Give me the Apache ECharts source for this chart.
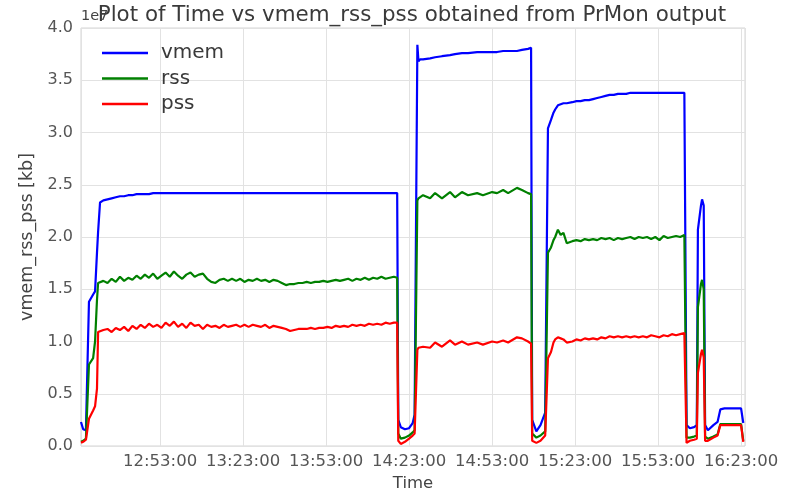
<!DOCTYPE html>
<html>
<head>
<meta charset="utf-8">
<script src="https://cdn.jsdelivr.net/npm/echarts@6/dist/echarts.min.js"></script>
<style>html,body{margin:0;padding:0;background:#fff}#c{width:792px;height:491px}</style>
</head>
<body>
<div id="c"></div>
<script>
// Time of each sample, in minutes after 12:00:00
const timeMin = [
  24.42, 25.2, 26.2, 26.6, 27.3, 28.8, 29.5, 30.2, 30.6,
  31.3, 32.5, 34, 35.5, 37, 38.5, 40, 41.5, 43, 44.5, 46,
  47.5, 49, 50.5, 52, 53.5, 55, 56.5, 58, 59.5, 61,
  62.5, 64, 65.5, 67, 68.5, 70, 71.5, 73, 74.5, 76,
  77.5, 79, 80.5, 82, 83.5, 85, 86.5, 88, 89.5, 91,
  92.5, 94, 95.5, 97, 98.5, 100, 101.5, 103, 104.5, 106,
  107.5, 109, 110.5, 112, 113.5, 115, 116.5, 118, 119.5, 121,
  122.5, 124, 125.5, 127, 128.5, 130, 131.5, 133, 134.5, 136,
  137.5, 138.7,
  139.1, 140, 141.5, 143, 144.3, 145, 146, 146.4, 147,
  148.05, 150.6, 152.4, 154.9, 157.8, 159.6, 162.1, 164.3, 167.6, 169.7,
  173.0, 174.8, 177.0, 178.8, 182.0, 183.8, 186.0, 187.1,
  187.5, 189, 190.5, 192.2, 193.2, 194.3, 195.2, 195.8, 196.8, 197.8, 198.8, 200,
  202, 203.5, 205, 206.5, 208, 209.5, 211, 212.5, 214, 215.5,
  217, 218.5, 220, 221.5, 223, 224.5, 226, 227.5, 229, 230.5,
  232, 233.5, 235, 236.5, 238, 239.5, 241, 242.5,
  243.3, 244.5, 246, 247, 247.4, 248.5, 248.9, 249.5, 250, 251,
  253, 254.5, 255.5, 257, 259, 261, 263, 263.8
];
// values in units of 1e7 kb
const vmem = [
  0.23, 0.16, 0.15, 0.16, 1.38, 1.45, 1.48, 1.85, 2.05,
  2.33, 2.35, 2.36, 2.37, 2.38, 2.39, 2.39, 2.40, 2.40, 2.41, 2.41,
  2.41, 2.41, 2.42, 2.42, 2.42, 2.42, 2.42, 2.42, 2.42, 2.42,
  2.42, 2.42, 2.42, 2.42, 2.42, 2.42, 2.42, 2.42, 2.42, 2.42,
  2.42, 2.42, 2.42, 2.42, 2.42, 2.42, 2.42, 2.42, 2.42, 2.42,
  2.42, 2.42, 2.42, 2.42, 2.42, 2.42, 2.42, 2.42, 2.42, 2.42,
  2.42, 2.42, 2.42, 2.42, 2.42, 2.42, 2.42, 2.42, 2.42, 2.42,
  2.42, 2.42, 2.42, 2.42, 2.42, 2.42, 2.42, 2.42, 2.42, 2.42,
  2.42, 2.42,
  0.25, 0.18, 0.16, 0.17, 0.22, 0.30, 3.84, 3.68, 3.70,
  3.70, 3.71, 3.72, 3.73, 3.74, 3.75, 3.76, 3.76, 3.77, 3.77,
  3.77, 3.77, 3.78, 3.78, 3.78, 3.79, 3.80, 3.81,
  0.25, 0.14, 0.20, 0.32, 3.04, 3.12, 3.19, 3.22, 3.26, 3.27, 3.28, 3.28,
  3.29, 3.30, 3.30, 3.31, 3.31, 3.32, 3.33, 3.34, 3.35, 3.36,
  3.36, 3.37, 3.37, 3.37, 3.38, 3.38, 3.38, 3.38, 3.38, 3.38,
  3.38, 3.38, 3.38, 3.38, 3.38, 3.38, 3.38, 3.38,
  0.20, 0.17, 0.18, 0.20, 2.07, 2.30, 2.36, 2.30, 0.20, 0.15,
  0.20, 0.23, 0.35, 0.36, 0.36, 0.36, 0.36, 0.22
];
const rss = [
  0.04, 0.05, 0.07, 0.08, 0.78, 0.84, 1.00, 1.40, 1.56,
  1.55, 1.58, 1.56, 1.60, 1.57, 1.62, 1.58, 1.61, 1.59, 1.63, 1.60,
  1.64, 1.61, 1.65, 1.60, 1.63, 1.66, 1.62, 1.67, 1.63, 1.60,
  1.64, 1.66, 1.62, 1.64, 1.65, 1.60, 1.57, 1.56, 1.59, 1.60,
  1.58, 1.60, 1.58, 1.60, 1.57, 1.59, 1.58, 1.60, 1.58, 1.59,
  1.57, 1.59, 1.58, 1.56, 1.54, 1.55, 1.55, 1.56, 1.56, 1.57,
  1.56, 1.57, 1.57, 1.58, 1.57, 1.58, 1.59, 1.58, 1.59, 1.60,
  1.58, 1.60, 1.59, 1.61, 1.59, 1.61, 1.60, 1.62, 1.60, 1.61,
  1.62, 1.61,
  0.12, 0.07, 0.08, 0.10, 0.13, 0.15, 2.35, 2.37, 2.38,
  2.40, 2.37, 2.42, 2.37, 2.43, 2.38, 2.43, 2.40, 2.42, 2.40,
  2.43, 2.42, 2.45, 2.42, 2.47, 2.45, 2.42, 2.41,
  0.12, 0.08, 0.10, 0.14, 1.85, 1.90, 1.97, 2.00, 2.07, 2.02, 2.04, 1.94,
  1.96, 1.97, 1.96, 1.98, 1.97, 1.98, 1.97, 1.99, 1.98, 1.99,
  1.97, 1.99, 1.98, 1.99, 2.00, 1.98, 2.00, 1.99, 2.00, 1.98,
  2.00, 1.97, 2.01, 1.99, 2.00, 2.01, 2.00, 2.02,
  0.08, 0.08, 0.09, 0.10, 1.33, 1.55, 1.59, 1.50, 0.09, 0.07,
  0.09, 0.11, 0.21, 0.21, 0.21, 0.21, 0.21, 0.05
];
const pss = [
  0.03, 0.04, 0.06, 0.07, 0.26, 0.34, 0.38, 0.55, 1.09,
  1.10, 1.11, 1.12, 1.09, 1.13, 1.11, 1.14, 1.10, 1.15, 1.12, 1.16,
  1.13, 1.17, 1.14, 1.16, 1.13, 1.18, 1.15, 1.19, 1.14, 1.17,
  1.13, 1.18, 1.15, 1.16, 1.12, 1.16, 1.14, 1.15, 1.13, 1.16,
  1.14, 1.15, 1.16, 1.14, 1.16, 1.14, 1.16, 1.15, 1.14, 1.16,
  1.13, 1.15, 1.14, 1.13, 1.12, 1.10, 1.11, 1.12, 1.12, 1.12,
  1.13, 1.12, 1.13, 1.13, 1.14, 1.13, 1.15, 1.14, 1.15, 1.14,
  1.16, 1.15, 1.16, 1.15, 1.17, 1.16, 1.17, 1.16, 1.18, 1.17,
  1.18, 1.18,
  0.05, 0.02, 0.04, 0.07, 0.10, 0.12, 0.92, 0.94, 0.94,
  0.95, 0.94, 0.99, 0.95, 1.01, 0.97, 1.00, 0.97, 0.99, 0.97,
  1.00, 0.99, 1.01, 0.99, 1.04, 1.03, 1.00, 0.98,
  0.05, 0.03, 0.05, 0.10, 0.84, 0.90, 0.99, 1.02, 1.04, 1.03, 1.02, 0.99,
  1.00, 1.02, 1.01, 1.03, 1.02, 1.03, 1.02, 1.04, 1.03, 1.05,
  1.04, 1.05, 1.04, 1.05, 1.04, 1.05, 1.04, 1.05, 1.04, 1.06,
  1.05, 1.04, 1.06, 1.05, 1.07, 1.06, 1.07, 1.08,
  0.03, 0.05, 0.06, 0.07, 0.70, 0.88, 0.92, 0.85, 0.05, 0.05,
  0.08, 0.10, 0.20, 0.20, 0.20, 0.20, 0.20, 0.04
];
const seriesNames = ['vmem', 'rss', 'pss'];
const yTicks = [0, 0.5, 1.0, 1.5, 2.0, 2.5, 3.0, 3.5, 4.0];
const xStartMin = 24.42;   // 12:24:25
const xEndMin = 264.42;    // 16:24:25
const tickOriginMin = 23;  // ticks fall every 30 min from 12:23

[vmem, rss, pss].forEach(function (a, i) {
  if (a.length !== timeMin.length) throw new Error(seriesNames[i] + ' length ' + a.length + ' vs ' + timeMin.length);
});

function pairs(vals) { return timeMin.map(function (t, i) { return [t - tickOriginMin, vals[i]]; }); }
function fmt(v) {
  var total = Math.round((v + tickOriginMin) * 60) + 12 * 3600;
  var h = Math.floor(total / 3600), m = Math.floor((total % 3600) / 60), s = total % 60;
  function p(n) { return (n < 10 ? '0' : '') + n; }
  return h + ':' + p(m) + ':' + p(s);
}

const font = 'DejaVu Sans';
const chart = echarts.init(document.getElementById('c'), null, { renderer: 'canvas' });
chart.setOption({
  animation: false,
  backgroundColor: '#ffffff',
  graphic: [{
    type: 'text', left: 81, top: 9, z: 10,
    style: { text: '1e7', fontFamily: font, fontSize: 14.5, fill: '#444' }
  }, {
    type: 'text', x: 412, y: 5, z: 11,
    style: { text: 'Plot of Time vs vmem_rss_pss obtained from PrMon output', textAlign: 'center', textVerticalAlign: 'top',
      fontFamily: font, fontSize: 21.4, fill: '#3a3a3a' }
  }],
  legend: {
    data: seriesNames,
    orient: 'vertical', left: 97, top: 38,
    icon: 'rect', itemWidth: 46, itemHeight: 2.5, itemGap: 5.5,
    textStyle: { fontFamily: font, fontSize: 20, color: '#3a3a3a', lineHeight: 20, padding: [0, 0, 0, 8] }
  },
  grid: {
    left: 81, right: 47, top: 28, bottom: 45,
    containLabel: false, outerBoundsMode: 'none',
    show: true, borderColor: '#d4d4d4', borderWidth: 1, backgroundColor: '#ffffff'
  },
  xAxis: {
    type: 'value',
    min: xStartMin - tickOriginMin, max: xEndMin - tickOriginMin,
    splitNumber: 8, minInterval: 30, maxInterval: 30,
    name: 'Time', nameLocation: 'middle', nameGap: 25,
    nameTextStyle: { fontFamily: font, fontSize: 16.5, color: '#444' },
    axisLine: { show: false }, axisTick: { show: false },
    axisLabel: { formatter: fmt, showMinLabel: false, showMaxLabel: false, margin: 7,
      fontFamily: font, fontSize: 16.5, color: '#555' },
    splitLine: { show: true, lineStyle: { color: '#e2e2e2', width: 1 } }
  },
  yAxis: {
    type: 'value', min: yTicks[0], max: yTicks[yTicks.length - 1], interval: yTicks[1] - yTicks[0],
    name: 'vmem_rss_pss [kb]', nameLocation: 'middle', nameGap: 29,
    nameTextStyle: { fontFamily: font, fontSize: 17.5, color: '#444' },
    axisLine: { show: false }, axisTick: { show: false },
    axisLabel: { formatter: function (v) { return v.toFixed(1); }, margin: 8,
      fontFamily: font, fontSize: 16, color: '#555' },
    splitLine: { show: true, lineStyle: { color: '#e2e2e2', width: 1 } }
  },
  series: [
    { name: 'vmem', type: 'line', data: pairs(vmem), showSymbol: false, color: '#0000ff', lineStyle: { width: 2.2, color: '#0000ff' }, z: 2 },
    { name: 'rss', type: 'line', data: pairs(rss), showSymbol: false, color: '#008000', lineStyle: { width: 2.2, color: '#008000' }, z: 3 },
    { name: 'pss', type: 'line', data: pairs(pss), showSymbol: false, color: '#ff0000', lineStyle: { width: 2.2, color: '#ff0000' }, z: 4 }
  ]
});
</script>
</body>
</html>
